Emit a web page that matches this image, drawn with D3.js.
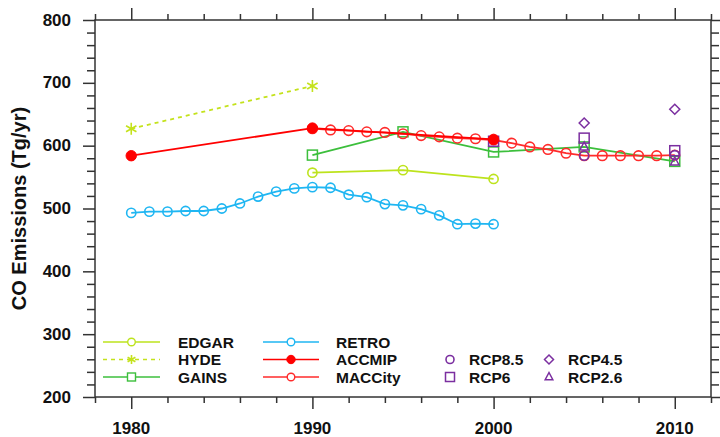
<!DOCTYPE html>
<html>
<head>
<meta charset="utf-8">
<script src="https://cdn.jsdelivr.net/npm/d3@7/dist/d3.min.js"></script>
<style>
  html, body { margin: 0; padding: 0; background: #fff; }
  svg { display: block; }
  text { font-family: "Liberation Sans", Arial, Helvetica, sans-serif; font-weight: bold; fill: #111; }
</style>
</head>
<body>
<svg id="chart"></svg>
<script>
// CO emissions by inventory (Tg/yr)
const edgarYears = [1990, 1995, 2000];
const edgar = [557, 561, 547];
const hydeYears = [1980, 1990];
const hyde = [627, 695];
const gainsYears = [1990, 1995, 2000, 2005, 2010];
const gains = [585, 622, 590, 598, 575];
const retroYears = [1980, 1981, 1982, 1983, 1984, 1985, 1986, 1987, 1988, 1989, 1990,
  1991, 1992, 1993, 1994, 1995, 1996, 1997, 1998, 1999, 2000];
const retro = [493, 495, 495, 496, 496, 500, 508, 519, 527, 532, 534,
  533, 522, 518, 507, 505, 499, 489, 475, 476, 475];
const accmipYears = [1980, 1990, 2000];
const accmip = [584, 628, 610];
const maccityYears = [1990, 1991, 1992, 1993, 1994, 1995, 1996, 1997, 1998, 1999, 2000,
  2001, 2002, 2003, 2004, 2005, 2006, 2007, 2008, 2009, 2010];
const maccity = [627, 625, 624, 622, 621, 619, 616, 614, 612, 611, 609,
  604, 598, 594, 588, 584, 584, 584, 584, 584, 585];
// RCP scenarios: only the RCP6 square shows at 2000 (others hidden behind ACCMIP)
const rcpYears = [2000, 2005, 2010];
const rcp85 = [null, 584, 585];
const rcp6 = [607, 612, 592];
const rcp45 = [null, 636, 658];
const rcp26 = [null, 598, 574];

const xMajor = [1980, 1990, 2000, 2010];
const yMajor = [200, 300, 400, 500, 600, 700, 800];

const width = 720, height = 437;
const pLeft = 95, pRight = 711, pTop = 20, pBottom = 397;

const svg = d3.select('#chart').attr('width', width).attr('height', height);

const x = d3.scaleLinear().domain([1978, 2012]).range([pLeft, pRight]);
const y = d3.scaleLinear().domain([200, 800]).range([pBottom, pTop]);

const purple = '#7b2fa0';
const series = {
  edgar:   { color: '#bde31d', marker: 'circle', dash: null },
  hyde:    { color: '#c4e21c', marker: 'star', dash: '4,4' },
  gains:   { color: '#3cbf3c', marker: 'square', dash: null },
  retro:   { color: '#1fb6f2', marker: 'circle', dash: null },
  accmip:  { color: '#ff0000', marker: 'dot', dash: null },
  maccity: { color: '#ff2b2b', marker: 'circle', dash: null }
};

// marker drawing helper
function marker(g, type, cx, cy, color, s) {
  if (type === 'circle') {
    g.append('circle').attr('cx', cx).attr('cy', cy).attr('r', s)
      .attr('fill', 'none').attr('stroke', color).attr('stroke-width', 1.6);
  } else if (type === 'dot') {
    g.append('circle').attr('cx', cx).attr('cy', cy).attr('r', s)
      .attr('fill', color).attr('stroke', color).attr('stroke-width', 1);
  } else if (type === 'square') {
    g.append('rect').attr('x', cx - s).attr('y', cy - s).attr('width', 2 * s).attr('height', 2 * s)
      .attr('fill', 'none').attr('stroke', color).attr('stroke-width', 1.5);
  } else if (type === 'diamond') {
    g.append('path').attr('d', `M${cx},${cy - s}L${cx + s},${cy}L${cx},${cy + s}L${cx - s},${cy}Z`)
      .attr('fill', 'none').attr('stroke', color).attr('stroke-width', 1.5);
  } else if (type === 'triangle') {
    g.append('path').attr('d', `M${cx},${cy - s}L${cx + s * 0.85},${cy + s * 0.6}L${cx - s * 0.85},${cy + s * 0.6}Z`)
      .attr('fill', 'none').attr('stroke', color).attr('stroke-width', 1.5);
  } else if (type === 'star') {
    const a = s * Math.cos(Math.PI / 6), b = s * Math.sin(Math.PI / 6);
    g.append('path')
      .attr('d', `M${cx},${cy - s}L${cx},${cy + s}M${cx - a},${cy - b}L${cx + a},${cy + b}M${cx - a},${cy + b}L${cx + a},${cy - b}`)
      .attr('stroke', color).attr('stroke-width', 1.6).attr('fill', 'none');
  }
}

// axes: major ticks long, minor short, all pointing out
const axisColor = '#333';
function styleAxis(sel) {
  sel.select('.domain').remove();
  sel.selectAll('line').attr('stroke', axisColor).attr('stroke-width', 1.5);
}
const xMinor = d3.range(1978, 2013, 2).filter(v => !xMajor.includes(v));
const yMinor = d3.range(200, 801, 20).filter(v => !yMajor.includes(v));

[[d3.axisBottom, pBottom], [d3.axisTop, pTop]].forEach(([ax, pos]) => {
  svg.append('g').attr('transform', `translate(0,${pos})`)
    .call(ax(x).tickValues(xMinor).tickSize(6).tickFormat('')).call(styleAxis);
  svg.append('g').attr('transform', `translate(0,${pos})`)
    .call(ax(x).tickValues(xMajor).tickSize(12).tickFormat('')).call(styleAxis);
});
[[d3.axisLeft, pLeft], [d3.axisRight, pRight]].forEach(([ax, pos]) => {
  svg.append('g').attr('transform', `translate(${pos},0)`)
    .call(ax(y).tickValues(yMinor).tickSize(8).tickFormat('')).call(styleAxis);
  svg.append('g').attr('transform', `translate(${pos},0)`)
    .call(ax(y).tickValues(yMajor).tickSize(12).tickFormat('')).call(styleAxis);
});

svg.append('rect')
  .attr('x', pLeft).attr('y', pTop).attr('width', pRight - pLeft).attr('height', pBottom - pTop)
  .attr('fill', 'none').attr('stroke', axisColor).attr('stroke-width', 1.5);

// tick labels
svg.append('g').selectAll('text').data(xMajor).join('text')
  .attr('x', d => x(d)).attr('y', 428)
  .attr('text-anchor', 'middle').attr('dominant-baseline', 'central')
  .style('font-size', '17px').text(d => d);
svg.append('g').selectAll('text').data(yMajor).join('text')
  .attr('x', 71).attr('y', d => y(d))
  .attr('text-anchor', 'end').attr('dominant-baseline', 'central')
  .style('font-size', '17px').text(d => d);

// y title
svg.append('text')
  .attr('transform', `translate(19,${(pTop + pBottom) / 2}) rotate(-90)`)
  .attr('text-anchor', 'middle').attr('dominant-baseline', 'central')
  .style('font-size', '20px').text('CO Emissions (Tg/yr)');

// series
const plot = svg.append('g');
function drawSeries(years, vals, cfg, size) {
  const pts = years.map((yr, i) => [x(yr), y(vals[i])]);
  plot.append('path').datum(pts)
    .attr('d', d3.line())
    .attr('fill', 'none').attr('stroke', cfg.color).attr('stroke-width', 1.8)
    .attr('stroke-dasharray', cfg.dash);
  pts.forEach(p => marker(plot, cfg.marker, p[0], p[1], cfg.color, size));
}
drawSeries(edgarYears, edgar, series.edgar, 4.6);
drawSeries(hydeYears, hyde, series.hyde, 6);
drawSeries(gainsYears, gains, series.gains, 5);
drawSeries(retroYears, retro, series.retro, 4.6);
drawSeries(maccityYears, maccity, series.maccity, 4.8);

// RCP scenarios (markers only)
[[rcp85, 'circle'], [rcp6, 'square'], [rcp45, 'diamond'], [rcp26, 'triangle']].forEach(([vals, m]) => {
  rcpYears.forEach((yr, i) => {
    if (vals[i] == null) return;
    marker(plot, m, x(yr), y(vals[i]), purple, m === 'circle' ? 4.5 : 5);
  });
});

drawSeries(accmipYears, accmip, series.accmip, 5.2);

// legend
const legend = svg.append('g');
const rows = [342, 359.5, 377];
const lineEntries = [
  { name: 'EDGAR', cfg: series.edgar, col: 0, row: 0 },
  { name: 'HYDE', cfg: series.hyde, col: 0, row: 1 },
  { name: 'GAINS', cfg: series.gains, col: 0, row: 2 },
  { name: 'RETRO', cfg: series.retro, col: 1, row: 0 },
  { name: 'ACCMIP', cfg: series.accmip, col: 1, row: 1 },
  { name: 'MACCity', cfg: series.maccity, col: 1, row: 2 }
];
const lineCols = [{ x1: 103, x2: 160, tx: 178 }, { x1: 263, x2: 319, tx: 336 }];
lineEntries.forEach(e => {
  const c = lineCols[e.col], yy = rows[e.row], cx = (c.x1 + c.x2) / 2;
  legend.append('line').attr('x1', c.x1).attr('x2', c.x2).attr('y1', yy).attr('y2', yy)
    .attr('stroke', e.cfg.color).attr('stroke-width', 1.3).attr('stroke-dasharray', e.cfg.dash);
  if (e.cfg.marker === 'circle') {
    legend.append('circle').attr('cx', cx).attr('cy', yy).attr('r', 3.8)
      .attr('fill', '#fff').attr('stroke', e.cfg.color).attr('stroke-width', 1.4);
  } else if (e.cfg.marker === 'dot') {
    marker(legend, 'dot', cx, yy, e.cfg.color, 4.2);
  } else if (e.cfg.marker === 'square') {
    legend.append('rect').attr('x', cx - 4).attr('y', yy - 4).attr('width', 8).attr('height', 8)
      .attr('fill', '#fff').attr('stroke', e.cfg.color).attr('stroke-width', 1.4);
  } else {
    marker(legend, e.cfg.marker, cx, yy, e.cfg.color, 4.5);
  }
  legend.append('text').attr('x', c.tx).attr('y', yy).attr('dominant-baseline', 'central')
    .style('font-size', '15.5px').text(e.name);
});
const rcpEntries = [
  { name: 'RCP8.5', m: 'circle', mx: 450, tx: 469, row: 1 },
  { name: 'RCP6', m: 'square', mx: 450, tx: 469, row: 2 },
  { name: 'RCP4.5', m: 'diamond', mx: 549, tx: 568, row: 1 },
  { name: 'RCP2.6', m: 'triangle', mx: 549, tx: 568, row: 2 }
];
rcpEntries.forEach(e => {
  marker(legend, e.m, e.mx, rows[e.row], purple, e.m === 'circle' ? 4 : 4.5);
  legend.append('text').attr('x', e.tx).attr('y', rows[e.row]).attr('dominant-baseline', 'central')
    .style('font-size', '15.5px').text(e.name);
});
</script>
</body>
</html>
